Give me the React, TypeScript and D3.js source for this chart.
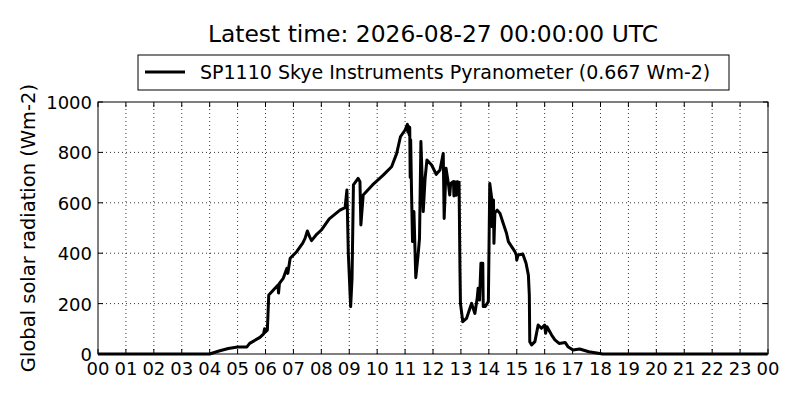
import * as d3 from "d3";

const day = "2026-08-26";
const nextDay = "2026-08-27";

const title = "Latest time: 2026-08-27 00:00:00 UTC";
const legendLabel = "SP1110 Skye Instruments Pyranometer (0.667 Wm-2)";
const yLabel = "Global solar radiation (Wm-2)";

const yTicks = [0, 200, 400, 600, 800, 1000];

// readings, UTC time of day
const times = [
  "00:00", "04:00", "04:20", "04:40", "05:00", "05:20", "05:26", "05:48", "05:56", "05:58",
  "06:00", "06:04", "06:07", "06:15", "06:27", "06:28", "06:30", "06:38", "06:44", "06:46",
  "06:48", "06:53", "07:07", "07:20", "07:25", "07:30", "07:35", "07:39", "07:50", "08:00",
  "08:17", "08:40", "08:51", "08:55", "08:58", "09:03", "09:06", "09:09", "09:19", "09:23",
  "09:25", "09:30", "09:50", "10:13", "10:31", "10:42", "10:50", "11:00", "11:05", "11:06",
  "11:07", "11:09", "11:10", "11:11", "11:12", "11:14", "11:16", "11:19", "11:23", "11:28",
  "11:31", "11:34", "11:39", "11:43", "11:47", "11:57", "12:07", "12:15", "12:22", "12:24",
  "12:28", "12:33", "12:36", "12:38", "12:44", "12:45", "12:47", "12:50", "12:52", "12:56",
  "12:58", "12:59", "13:04", "13:12", "13:23", "13:30", "13:35", "13:37", "13:40", "13:43",
  "13:47", "13:48", "13:52", "13:59", "14:02", "14:06", "14:07", "14:10", "14:11", "14:13",
  "14:18", "14:24", "14:31", "14:38", "14:42", "14:49", "14:56", "14:59", "15:00", "15:03",
  "15:13", "15:20", "15:25", "15:27", "15:28", "15:32", "15:39", "15:46", "15:53", "16:00",
  "16:02", "16:05", "16:15", "16:22", "16:31", "16:44", "16:50", "17:01", "17:15", "17:35",
  "17:55", "18:05", "23:59",
];

const values = [
  0, 0, 12, 22, 28, 28, 42, 66, 80, 100,
  88, 95, 234, 250, 274, 242, 280, 300, 330, 340,
  320, 380, 406, 440, 459, 488, 465, 450, 475, 492,
  536, 571, 581, 651, 400, 188, 300, 671, 697, 684,
  512, 631, 671, 710, 743, 796, 862, 889, 911, 880,
  905, 869, 900, 700, 850, 631, 446, 565, 303, 393,
  459, 843, 565, 697, 770, 750, 713, 730, 796, 538,
  737, 677, 631, 677, 684, 627, 684, 630, 684, 681,
  327, 201, 128, 141, 201, 161, 221, 261, 214, 360,
  360, 188, 188, 208, 677, 620, 505, 611, 439, 560,
  571, 558, 518, 479, 446, 426, 406, 393, 373, 393,
  397, 360, 313, 234, 49, 36, 49, 115, 102, 115,
  82, 108, 75, 56, 42, 46, 29, 16, 20, 9,
  3, 0, 0,
];

const width = 800;
const height = 400;
const margin = { top: 102, right: 32, bottom: 46, left: 98 };
const font = "'DejaVu Sans', sans-serif";

export default function App() {
  const x = d3
    .scaleUtc()
    .domain([new Date(`${day}T00:00:00Z`), new Date(`${nextDay}T00:00:00Z`)])
    .range([margin.left, width - margin.right]);

  const y = d3
    .scaleLinear()
    .domain([0, 1000])
    .range([height - margin.bottom, margin.top]);

  const data = times.map((t, i) => ({ t: new Date(`${day}T${t}:00Z`), v: values[i] }));

  const line = d3
    .line<{ t: Date; v: number }>()
    .x((d) => x(d.t))
    .y((d) => y(d.v));

  const xTicks = x.ticks(d3.utcHour.every(1)!);
  const fmt = d3.utcFormat("%H");

  const x0 = margin.left;
  const x1 = width - margin.right;
  const y0 = height - margin.bottom;
  const y1 = margin.top;
  const cx = (x0 + x1) / 2;

  return (
    <div style={{ position: "fixed", left: 0, top: 0 }}>
      <svg width={width} height={height} style={{ display: "block", background: "#fff" }}>
        <text x={cx} y={42} textAnchor="middle" fontFamily={font} fontSize={23.4}>
          {title}
        </text>

        {/* grid */}
        <g stroke="#000" strokeWidth={0.8} strokeDasharray="1,3">
          {xTicks.slice(1, -1).map((t) => (
            <line key={+t} x1={x(t)} x2={x(t)} y1={y0} y2={y1} />
          ))}
          {yTicks.slice(1, -1).map((v) => (
            <line key={v} x1={x0} x2={x1} y1={y(v)} y2={y(v)} />
          ))}
        </g>

        <path
          d={line(data) ?? ""}
          fill="none"
          stroke="#000"
          strokeWidth={3}
          strokeLinejoin="round"
        />

        {/* ticks, inward on all sides */}
        <g stroke="#000" strokeWidth={1}>
          {xTicks.map((t) => (
            <g key={+t}>
              <line x1={x(t)} x2={x(t)} y1={y0} y2={y0 - 5} />
              <line x1={x(t)} x2={x(t)} y1={y1} y2={y1 + 5} />
            </g>
          ))}
          {yTicks.map((v) => (
            <g key={v}>
              <line x1={x0} x2={x0 + 5} y1={y(v)} y2={y(v)} />
              <line x1={x1} x2={x1 - 5} y1={y(v)} y2={y(v)} />
            </g>
          ))}
        </g>

        <rect x={x0} y={y1} width={x1 - x0} height={y0 - y1} fill="none" stroke="#000" strokeWidth={1} />

        <g fontFamily={font} fontSize={18}>
          {xTicks.map((t) => (
            <text key={+t} x={x(t)} y={y0 + 21} textAnchor="middle">
              {fmt(t)}
            </text>
          ))}
          {yTicks.map((v) => (
            <text key={v} x={x0 - 6} y={y(v) + 7} textAnchor="end">
              {v}
            </text>
          ))}
        </g>
        <text
          transform={`translate(35,${(y0 + y1) / 2}) rotate(-90)`}
          textAnchor="middle"
          fontFamily={font}
          fontSize={19.5}
        >
          {yLabel}
        </text>

        {/* legend */}
        <g>
          <rect x={138} y={55} width={591} height={35} fill="#fff" stroke="#000" strokeWidth={1} />
          <line x1={145} x2={185} y1={72} y2={72} stroke="#000" strokeWidth={3} />
          <text x={200} y={79} fontFamily={font} fontSize={19}>
            {legendLabel}
          </text>
        </g>
      </svg>
    </div>
  );
}
